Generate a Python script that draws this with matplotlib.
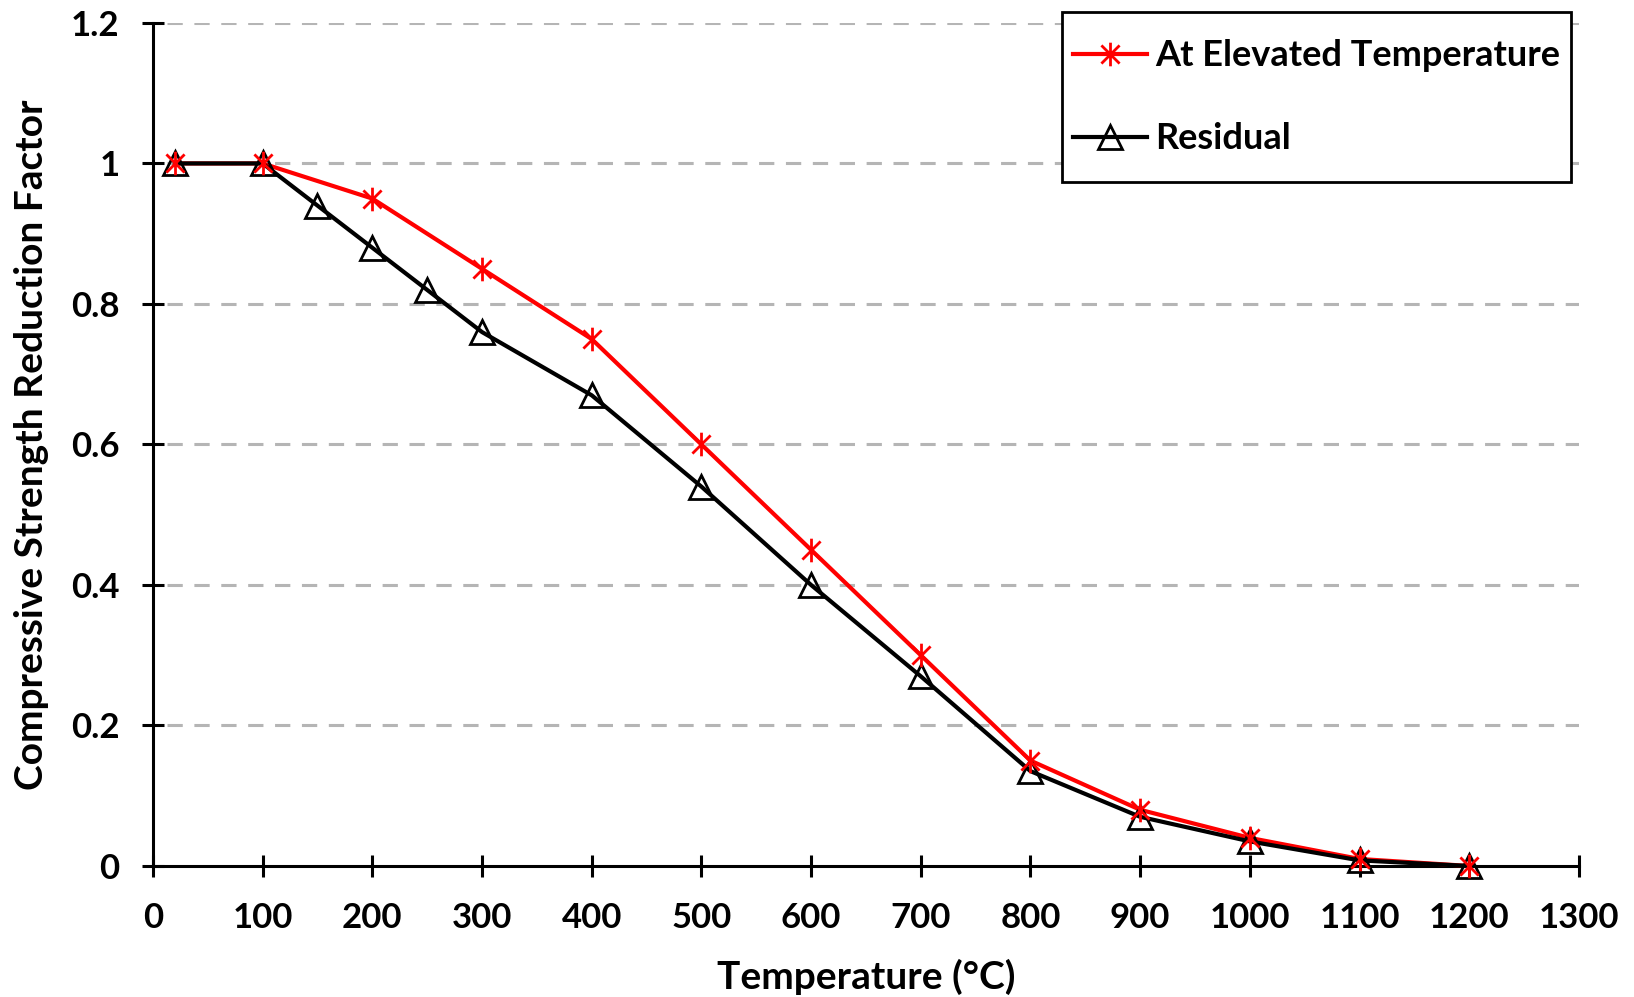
import matplotlib
matplotlib.use("Agg")
import matplotlib.pyplot as plt
from matplotlib.path import Path
from matplotlib.markers import MarkerStyle
from matplotlib.patches import Rectangle

plt.rcParams['font.family'] = ['Lato', 'DejaVu Sans']
plt.rcParams['font.weight'] = 'bold'

# Data
temp_elev = [20, 100, 200, 300, 400, 500, 600, 700, 800, 900, 1000, 1100, 1200]
factor_elev = [1.0, 1.0, 0.95, 0.85, 0.75, 0.60, 0.45, 0.30, 0.15, 0.08, 0.04, 0.01, 0.0]
temp_res = [20, 100, 150, 200, 250, 300, 400, 500, 600, 700, 800, 900, 1000, 1100, 1200]
factor_res = [1.0, 1.0, 0.94, 0.88, 0.82, 0.76, 0.67, 0.54, 0.40, 0.27, 0.135, 0.07, 0.035, 0.008, 0.0]
x_ticks = list(range(0, 1301, 100))
y_ticks = [0, 0.2, 0.4, 0.6, 0.8, 1, 1.2]
y_ticklabels = ['0', '0.2', '0.4', '0.6', '0.8', '1', '1.2']
label_elev = 'At Elevated Temperature'
label_res = 'Residual'
xlabel = 'Temperature (°C)'
ylabel = 'Compressive Strength Reduction Factor'

# Excel-style asterisk marker: X plus vertical bar
ast_path = Path([(-1, -1), (1, 1), (-1, 1), (1, -1), (0, -1.3), (0, 1.3)],
                [Path.MOVETO, Path.LINETO, Path.MOVETO, Path.LINETO, Path.MOVETO, Path.LINETO])
ast_marker = MarkerStyle(ast_path)

DPI = 100
fig = plt.figure(figsize=(16.34, 9.97), dpi=DPI)
ax = fig.add_axes([0.0936, 0.1314, 0.9663 - 0.0936, 0.977 - 0.1314])

red = '#ff0000'
LW = 3.0
MS = 17
ax.plot(temp_elev, factor_elev, color=red, lw=LW, zorder=3, clip_on=False)
ax.plot(temp_res, factor_res, color='black', lw=LW, zorder=4, clip_on=False)
ax.plot(temp_res, factor_res, ls='none', marker='^', ms=MS, mfc='none', mec='black', mew=2.0,
        zorder=5, clip_on=False)
ax.plot(temp_elev, factor_elev, ls='none', marker=ast_marker, ms=MS, mec=red, mew=2.0,
        zorder=6, clip_on=False)

# legend proxies
h1, = ax.plot([], [], color=red, lw=LW, marker=ast_marker, ms=MS, mec=red, mew=2.0)
h2, = ax.plot([], [], color='black', lw=LW, marker='^', ms=MS, mfc='none', mec='black', mew=2.0)

ax.set_xlim(0, 1300)
ax.set_ylim(0, 1.2)
ax.set_xticks(x_ticks)
ax.set_yticks(y_ticks)
ax.set_yticklabels(y_ticklabels)

for s in ['top', 'right']:
    ax.spines[s].set_visible(False)
for s in ['left', 'bottom']:
    ax.spines[s].set_linewidth(2.2)
    ax.spines[s].set_color('black')

ax.tick_params(axis='both', direction='inout', length=16, width=2.2, labelsize=25, colors='black')
ax.tick_params(axis='x', pad=18)
ax.tick_params(axis='y', pad=16)

for yv in y_ticks[1:]:
    ax.axhline(yv, xmin=0.01, xmax=1.0, color='#b5b5b5', lw=2.2, ls=(0, (5, 3.8)), zorder=1)

ax.set_xlabel(xlabel, fontsize=28, fontweight='bold', labelpad=18)
ax.set_ylabel(ylabel, fontsize=28, fontweight='bold', labelpad=16)

# legend (frame drawn separately to get wider vertical than horizontal padding)
EXTRA = 16  # extra vertical padding in pixels
W, H = fig.get_size_inches() * DPI
leg = ax.legend([h1, h2], [label_elev, label_res], loc='upper right',
                bbox_to_anchor=(0.9614, 1 - (12.5 + EXTRA) / H), bbox_transform=fig.transFigure,
                fontsize=26, frameon=False,
                handlelength=2.05, handletextpad=0.23, labelspacing=1.38,
                borderpad=0.3, borderaxespad=0)
for t in leg.get_texts():
    t.set_fontweight('bold')
leg.set_zorder(9)

fig.canvas.draw()
bb = leg.get_window_extent(fig.canvas.get_renderer())
rect = Rectangle((bb.x0 / W, (bb.y0 - EXTRA) / H), bb.width / W, (bb.height + 2 * EXTRA) / H,
                 transform=fig.transFigure, facecolor='white', edgecolor='black',
                 lw=2.0, zorder=8, clip_on=False)
ax.add_patch(rect)

fig.savefig('out.png', dpi=DPI, facecolor='white')
